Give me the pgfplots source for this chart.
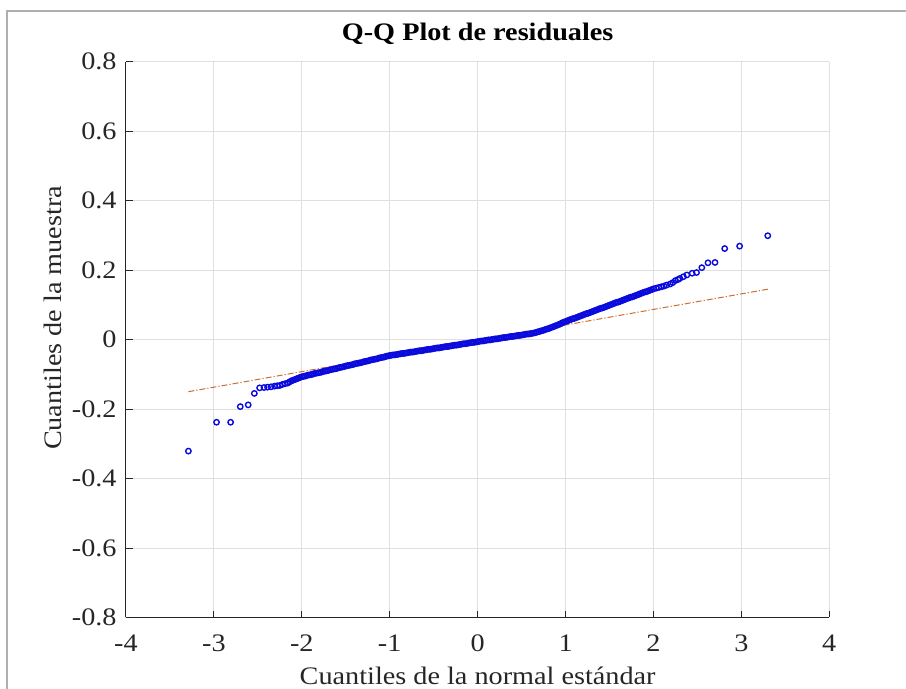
\documentclass[border=0pt]{standalone}
\usepackage{fontspec}
\setmainfont{Liberation Serif}[FakeStretch=1.12]
\usepackage{pgfplots}
\pgfplotsset{compat=1.18}
\definecolor{qqblue}{RGB}{10,10,220}
\definecolor{qqref}{RGB}{200,110,50}
\definecolor{axgray}{RGB}{38,38,38}
\definecolor{gridgray}{RGB}{223,223,223}
\definecolor{framegray}{RGB}{175,175,175}
\newcommand{\chartfont}{\fontsize{12.6pt}{15pt}\selectfont}

\begin{document}
\begin{tikzpicture}
\path[use as bounding box] (0,0) rectangle (453pt,344.5pt);
\draw[framegray, line width=1pt] (3.65pt,0) -- (3.65pt,339pt) -- (453pt,339pt);
\begin{axis}[
  at={(63pt,35.75pt)}, anchor=south west,
  width=351.65pt, height=277.9pt, scale only axis,
  xmin=-4, xmax=4, ymin=-0.8, ymax=0.8,
  xtick={-4,-3,-2,-1,0,1,2,3,4},
  ytick={-0.8,-0.6,-0.4,-0.2,0,0.2,0.4,0.6,0.8},
  axis lines*=left,
  axis line style={axgray, line width=0.5pt, -},
  tick style={axgray, line width=0.5pt},
  tick align=inside, major tick length=3.3pt,
  grid=major, grid style={gridgray, line width=0.5pt},
  /pgf/number format/assume math mode=true,
  tick label style={font=\chartfont, text=axgray},
  xticklabel style={anchor=base, inner sep=0pt, yshift=-17.25pt},
  yticklabel style={anchor=east, inner sep=0pt, xshift=-4.5pt},
  title={Q-Q Plot de residuales},
  title style={font=\chartfont\bfseries, at={(axis description cs:0.5,1.0157)}, anchor=base, inner sep=0pt},
  xlabel={Cuantiles de la normal estándar},
  xlabel style={font=\chartfont, text=axgray, at={(axis description cs:0.5,-0.1214)}, anchor=base, inner sep=0pt},
  ylabel={Cuantiles de la muestra},
  ylabel style={font=\chartfont, text=axgray, at={(axis description cs:-0.0914,0.539)}, anchor=base, inner sep=0pt},
]
% reference line through the quartiles, extended
\addplot[qqref, line width=0.5pt, dash pattern=on 3pt off 1pt on 0.6pt off 1pt] coordinates {(-3.29,-0.150) (3.30,0.145)};
\addplot[qqref, line width=0.5pt] coordinates {(-0.674,-0.033) (0.674,0.028)};

% sample quantiles vs standard normal quantiles
\addplot[only marks, mark=o, mark size=1.35pt, qqblue, mark options={line width=0.7pt}] coordinates {
(-3.29,-0.321) (-2.97,-0.238) (-2.81,-0.238) (-2.70,-0.193) (-2.61,-0.188) (-2.54,-0.155) (-2.48,-0.139) (-2.43,-0.138)
(-2.39,-0.137) (-2.35,-0.136) (-2.31,-0.134) (-2.28,-0.133) (-2.25,-0.132) (-2.22,-0.129) (-2.19,-0.127) (-2.16,-0.125)
(-2.14,-0.122) (-2.12,-0.119) (-2.10,-0.117) (-2.08,-0.115) (-2.06,-0.113) (-2.04,-0.111) (-2.02,-0.109)
(-2.00,-0.107) (-1.98,-0.106) (-1.96,-0.105) (-1.94,-0.103) (-1.92,-0.102) (-1.90,-0.101) (-1.88,-0.100) (-1.86,-0.098) (-1.84,-0.097) (-1.82,-0.096)
(-1.80,-0.095) (-1.78,-0.094) (-1.76,-0.092) (-1.74,-0.091) (-1.72,-0.090) (-1.70,-0.089) (-1.68,-0.087) (-1.66,-0.086) (-1.64,-0.085) (-1.62,-0.084)
(-1.60,-0.083) (-1.58,-0.081) (-1.56,-0.080) (-1.54,-0.079) (-1.52,-0.078) (-1.50,-0.076) (-1.48,-0.075) (-1.46,-0.074) (-1.44,-0.073) (-1.42,-0.072)
(-1.40,-0.070) (-1.38,-0.069) (-1.36,-0.068) (-1.34,-0.067) (-1.32,-0.066) (-1.30,-0.064) (-1.28,-0.063) (-1.26,-0.062) (-1.24,-0.061) (-1.22,-0.059)
(-1.20,-0.058) (-1.18,-0.057) (-1.16,-0.056) (-1.14,-0.055) (-1.12,-0.053) (-1.10,-0.052) (-1.08,-0.051) (-1.06,-0.050) (-1.04,-0.048) (-1.02,-0.047)
(-1.00,-0.046) (-0.98,-0.045) (-0.96,-0.044) (-0.94,-0.044) (-0.92,-0.043) (-0.90,-0.042) (-0.88,-0.041) (-0.86,-0.040) (-0.84,-0.040) (-0.82,-0.039)
(-0.80,-0.038) (-0.78,-0.037) (-0.76,-0.036) (-0.74,-0.036) (-0.72,-0.035) (-0.70,-0.034) (-0.68,-0.033) (-0.66,-0.032) (-0.64,-0.032) (-0.62,-0.031)
(-0.60,-0.030) (-0.58,-0.029) (-0.56,-0.028) (-0.54,-0.028) (-0.52,-0.027) (-0.50,-0.026) (-0.48,-0.025) (-0.46,-0.024) (-0.44,-0.024) (-0.42,-0.023)
(-0.40,-0.022) (-0.38,-0.021) (-0.36,-0.020) (-0.34,-0.020) (-0.32,-0.019) (-0.30,-0.018) (-0.28,-0.017) (-0.26,-0.016) (-0.24,-0.016) (-0.22,-0.015)
(-0.20,-0.014) (-0.18,-0.013) (-0.16,-0.012) (-0.14,-0.012) (-0.12,-0.011) (-0.10,-0.010) (-0.08,-0.009) (-0.06,-0.008) (-0.04,-0.008) (-0.02,-0.007)
(0.00,-0.006) (0.02,-0.005) (0.04,-0.004) (0.06,-0.004) (0.08,-0.003) (0.10,-0.002) (0.12,-0.001) (0.14,-0.001) (0.16,0.000) (0.18,0.001)
(0.20,0.002) (0.22,0.002) (0.24,0.003) (0.26,0.004) (0.28,0.005) (0.30,0.006) (0.32,0.006) (0.34,0.007) (0.36,0.008) (0.38,0.009)
(0.40,0.009) (0.42,0.010) (0.44,0.011) (0.46,0.012) (0.48,0.012) (0.50,0.013) (0.52,0.014) (0.54,0.015) (0.56,0.016) (0.58,0.016)
(0.60,0.017) (0.62,0.018) (0.64,0.019) (0.66,0.020) (0.68,0.022) (0.70,0.023) (0.72,0.025) (0.74,0.026) (0.76,0.028) (0.78,0.030)
(0.80,0.031) (0.82,0.033) (0.84,0.035) (0.86,0.037) (0.88,0.039) (0.90,0.041) (0.92,0.043) (0.94,0.045) (0.96,0.048) (0.98,0.050)
(1.00,0.052) (1.02,0.054) (1.04,0.056) (1.06,0.058) (1.08,0.060) (1.10,0.061) (1.12,0.063) (1.14,0.065) (1.16,0.067) (1.18,0.069)
(1.20,0.071) (1.22,0.073) (1.24,0.075) (1.26,0.076) (1.28,0.078) (1.30,0.080) (1.32,0.082) (1.34,0.084) (1.36,0.086) (1.38,0.088)
(1.40,0.090) (1.42,0.091) (1.44,0.093) (1.46,0.095) (1.48,0.097) (1.50,0.099) (1.52,0.101) (1.54,0.103) (1.56,0.105) (1.58,0.107)
(1.60,0.108) (1.62,0.110) (1.64,0.112) (1.66,0.114) (1.68,0.116) (1.70,0.118) (1.72,0.120) (1.74,0.122) (1.76,0.123) (1.78,0.125)
(1.80,0.127) (1.82,0.129) (1.84,0.131) (1.86,0.133) (1.88,0.135) (1.90,0.137) (1.92,0.138) (1.94,0.140) (1.96,0.142) (1.98,0.144)
(2.00,0.146) (2.03,0.148) (2.06,0.150) (2.09,0.152) (2.12,0.154) (2.15,0.157) (2.19,0.160) (2.22,0.164) (2.25,0.170) (2.28,0.173)
(2.30,0.176) (2.34,0.181) (2.38,0.186) (2.44,0.191) (2.49,0.193) (2.55,0.207) (2.62,0.221) (2.70,0.222) (2.81,0.262) (2.98,0.269)
(3.30,0.299)
};
\end{axis}
\end{tikzpicture}
\end{document}
